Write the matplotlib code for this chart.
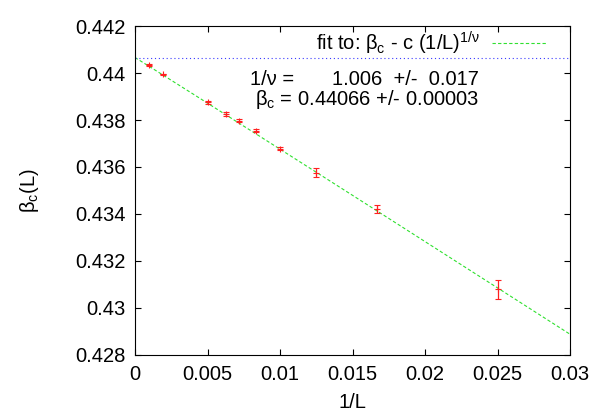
import numpy as np
import matplotlib
matplotlib.use("Agg")
import matplotlib.pyplot as plt

plt.rcParams["font.family"] = ["Liberation Sans", "DejaVu Sans"]
plt.rcParams["mathtext.fontset"] = "custom"
plt.rcParams["mathtext.rm"] = "Liberation Sans"
plt.rcParams["mathtext.it"] = "Liberation Sans"
plt.rcParams["mathtext.default"] = "rm"

# measured data: lattice size L and pseudo-critical coupling
L = np.array([1024, 512, 200, 160, 140, 120, 100, 80, 60, 40])
beta_L = np.array([0.44035, 0.43994, 0.43875, 0.43826, 0.43797,
                   0.43754, 0.43678, 0.43576, 0.43421, 0.43079])
beta_err = np.array([0.00003, 0.00003, 0.00005, 0.00007, 0.00007,
                     0.00006, 0.00005, 0.00020, 0.00019, 0.00040])

# fit result
beta_c = 0.44066
inv_nu = 1.006
c_fit = 0.401

xticks = [0, 0.005, 0.01, 0.015, 0.02, 0.025, 0.03]
xticklabels = ["0", "0.005", "0.01", "0.015", "0.02", "0.025", "0.03"]
yticks = [0.428, 0.43, 0.432, 0.434, 0.436, 0.438, 0.44, 0.442]
yticklabels = ["0.428", "0.43", "0.432", "0.434", "0.436", "0.438", "0.44", "0.442"]

fs = 14.5

fig = plt.figure(figsize=(6, 4.2), dpi=100)
ax = fig.add_axes([0.225, 0.155, 0.725, 0.783])

x = 1.0 / L
xf = np.linspace(0, 0.03, 300)
ax.plot(xf, beta_c - c_fit * xf ** inv_nu, color="#30e030", lw=0.8,
        dashes=(3, 2), label="fit to: β$_\\mathrm{c}$ - c (1/L)$^{1/ν}$")
ax.axhline(beta_c, color="#3a3aff", lw=0.8, ls=(0, (1, 2.5)))
ax.errorbar(x, beta_L, yerr=beta_err, fmt="+", color="#ff2020", ms=4,
            mew=0.8, elinewidth=0.9, capsize=2.5, capthick=0.9)

ax.set_xlim(0, 0.03)
ax.set_ylim(0.428, 0.442)
ax.set_xticks(xticks)
ax.set_xticklabels(xticklabels)
ax.set_yticks(yticks)
ax.set_yticklabels(yticklabels)
ax.tick_params(direction="in", length=4, top=True, right=True, labelsize=fs, pad=7)
ax.set_xlabel("1/L", fontsize=fs, labelpad=7)
ax.set_ylabel("β$_\\mathrm{c}$(L)", fontsize=fs, labelpad=24)

ax.legend(loc="upper right", frameon=False, markerfirst=False, fontsize=fs,
          handlelength=2.7, handletextpad=0.6, borderpad=0, borderaxespad=0,
          bbox_to_anchor=(0.945, 0.99))

ax.text(0.264, 0.822, "1/ν =", transform=ax.transAxes, fontsize=fs)
ax.text(0.791, 0.822, "1.006  +/-  0.017", transform=ax.transAxes, fontsize=fs, ha="right")
ax.text(0.791, 0.760, "β$_\\mathrm{c}$ = 0.44066 +/- 0.00003", transform=ax.transAxes,
        fontsize=fs, ha="right")

fig.savefig("out.png", dpi=100)
